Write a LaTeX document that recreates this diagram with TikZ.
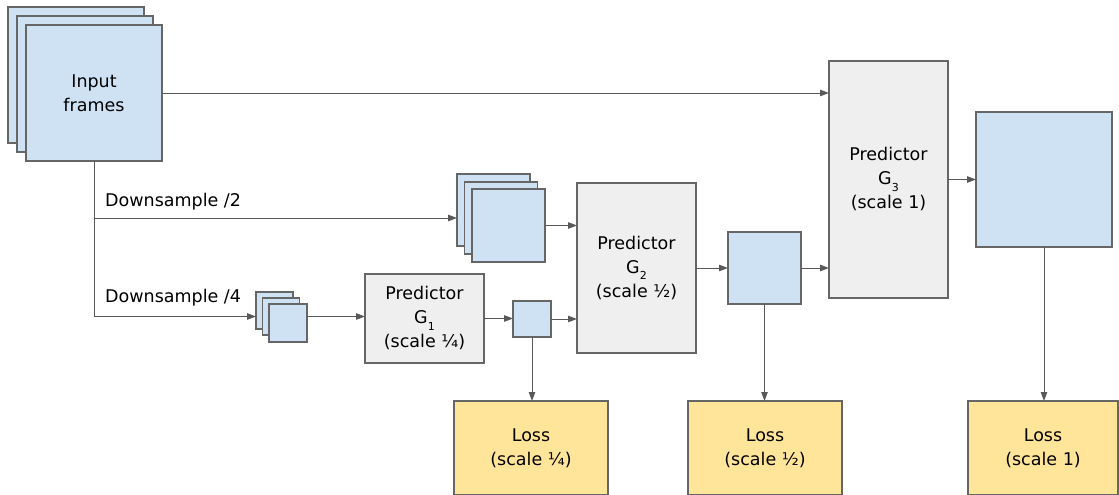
\documentclass[tikz,border=0pt]{standalone}
\usepackage{fontspec}
\setmainfont{DejaVu Sans}
\usetikzlibrary{arrows.meta}
\definecolor{frameblue}{HTML}{CFE2F3}
\definecolor{predgray}{HTML}{EFEFEF}
\definecolor{lossyellow}{HTML}{FFE599}
\definecolor{edgegray}{HTML}{666666}
\definecolor{linegray}{HTML}{595959}
\newcommand{\lowsub}[1]{\raisebox{-6.5pt}{\fontsize{11}{11}\selectfont #1}}
\tikzset{
  box/.style={draw=edgegray, line width=1.2pt, inner sep=0pt, outer sep=0pt,
    align=center, font=\fontsize{17.5}{24}\selectfont},
  framebox/.style={box, fill=frameblue},
  predbox/.style={box, fill=predgray},
  lossbox/.style={box, fill=lossyellow},
  conn/.style={draw=linegray, line width=1pt},
  arr/.style={conn, -{Triangle[length=9pt,width=6.5pt]}},
  lbl/.style={font=\fontsize{17.5}{24}\selectfont, anchor=west, inner sep=0pt}
}
\begin{document}
\begin{tikzpicture}[x=1pt,y=-1pt]
\useasboundingbox (0,0) rectangle (1119,495);

% input frames stack
\node[framebox, minimum width=136pt, minimum height=136pt] (in1) at (76,75) {};
\node[framebox, minimum width=136pt, minimum height=136pt] (in2) at (85,84) {};
\node[framebox, minimum width=136pt, minimum height=136pt] (in3) at (94,93) {Input\\frames};

% half-scale stack
\node[framebox, minimum width=73pt, minimum height=72pt] (s2b) at (493.5,210) {};
\node[framebox, minimum width=73pt, minimum height=72pt] (s2m) at (501,218) {};
\node[framebox, minimum width=73pt, minimum height=73pt] (s2f) at (508.5,225.5) {};

% quarter-scale stack
\node[framebox, minimum width=37pt, minimum height=37pt] (s3b) at (274.5,310.5) {};
\node[framebox, minimum width=37pt, minimum height=37pt] (s3m) at (281,316.5) {};
\node[framebox, minimum width=38pt, minimum height=38pt] (s3f) at (288,323) {};

% predictors
\node[predbox, minimum width=119pt, minimum height=89pt] (g1) at (424.5,318.5)
  {Predictor\\G\lowsub{1}\\(scale ¼)};
\node[predbox, minimum width=119pt, minimum height=170pt] (g2) at (636.5,268)
  {Predictor\\G\lowsub{2}\\(scale ½)};
\node[predbox, minimum width=119pt, minimum height=237pt] (g3) at (888.5,179.5)
  {Predictor\\G\lowsub{3}\\(scale 1)};

% predicted frames
\node[framebox, minimum width=38pt, minimum height=36pt] (sm) at (532,319) {};
\node[framebox, minimum width=73pt, minimum height=72pt] (md) at (764.5,268) {};
\node[framebox, minimum width=136pt, minimum height=135pt] (bg) at (1044,179.5) {};

% losses
\node[lossbox, minimum width=154pt, minimum height=94pt] (l1) at (531,448) {Loss\\(scale ¼)};
\node[lossbox, minimum width=154pt, minimum height=94pt] (l2) at (765,448) {Loss\\(scale ½)};
\node[lossbox, minimum width=150pt, minimum height=94pt] (l3) at (1043,448) {Loss\\(scale 1)};

% labels
\node[lbl] (d2) at (105,202) {Downsample /2};
\node[lbl] (d4) at (105,298) {Downsample /4};

% connectors
\draw[arr] (in3.east) -- (in3.east -| g3.west);
\draw[arr] (in3.south) |- (s3b.west |- s3m.center);
\draw[arr] (in3.south |- s2m.center) -- (s2b.west |- s2m.center);
\draw[arr] (s2f.east) -- (s2f.east -| g2.west);
\draw[arr] (s3m.center -| s3f.east) -- (s3m.center -| g1.west);
\draw[arr] (g1.east) -- (g1.east -| sm.west);
\draw[arr] (sm.east) -- (sm.east -| g2.west);
\draw[arr] (sm.south) -- (sm.south |- l1.north);
\draw[arr] (g2.east) -- (md.west);
\draw[arr] (md.east) -- (md.east -| g3.west);
\draw[arr] (md.south) -- (md.south |- l2.north);
\draw[arr] (g3.east) -- (bg.west);
\draw[arr] (bg.south) -- (bg.south |- l3.north);
\end{tikzpicture}
\end{document}
